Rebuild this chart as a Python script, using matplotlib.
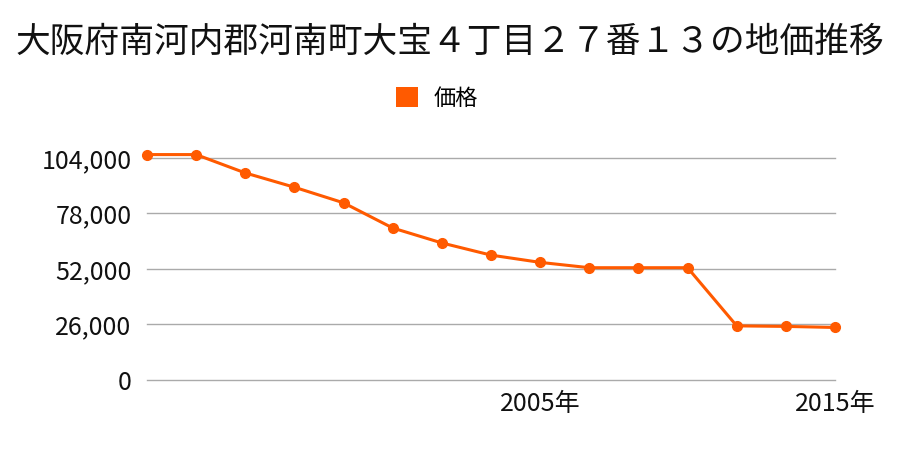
import matplotlib
matplotlib.use("Agg")
import matplotlib.pyplot as plt
from matplotlib.patches import Patch

plt.rcParams['font.family'] = ['Noto Sans CJK JP', 'DejaVu Sans']

title = "大阪府南河内郡河南町大宝４丁目２７番１３の地価推移"
series_name = "価格"
x_labels = ["", "", "", "", "", "", "", "", "2005年", "", "", "", "", "", "2015年"]
prices = [105600, 105600, 97000, 90300, 83000, 71200, 64200, 58500, 55100,
          52600, 52600, 52600, 25350, 25100, 24600]
y_ticks = [0, 26000, 52000, 78000, 104000]

color = "#FF5A00"

fig = plt.figure(figsize=(9, 4.5), dpi=100)
ax = fig.add_axes([0.1633, 0.1556, 0.9278 - 0.1633, 0.4933])

x = list(range(len(prices)))
ax.plot(x, prices, color=color, linewidth=2.2, marker='o', markersize=7,
        clip_on=False, zorder=3)

ax.set_xlim(0, len(prices) - 1)
ax.set_ylim(0, 104000)
ax.set_yticks(y_ticks)
ax.set_yticklabels([f"{v:,}" for v in y_ticks])
ticks_idx = [i for i, l in enumerate(x_labels) if l]
ax.set_xticks(ticks_idx)
ax.set_xticklabels([x_labels[i] for i in ticks_idx])

ax.grid(axis='y', color='#aaaaaa', linewidth=1)
for gl in ax.get_ygridlines():
    gl.set_clip_on(False)
ax.set_axisbelow(True)
for s in ax.spines.values():
    s.set_visible(False)
ax.tick_params(axis='both', length=0, labelsize=18, colors='#111111')
ax.tick_params(axis='y', pad=11)
ax.tick_params(axis='x', pad=8)

fig.text(0.5, 0.905, title, ha='center', va='center', fontsize=25, color='#111111')

handles = [Patch(facecolor=color, edgecolor='none', label=series_name)]
fig.legend(handles=handles, loc='center', bbox_to_anchor=(0.486, 0.782), frameon=False,
           fontsize=16, handlelength=1.0, handleheight=1.0, handletextpad=0.7)

fig.savefig("out.png", dpi=100)
